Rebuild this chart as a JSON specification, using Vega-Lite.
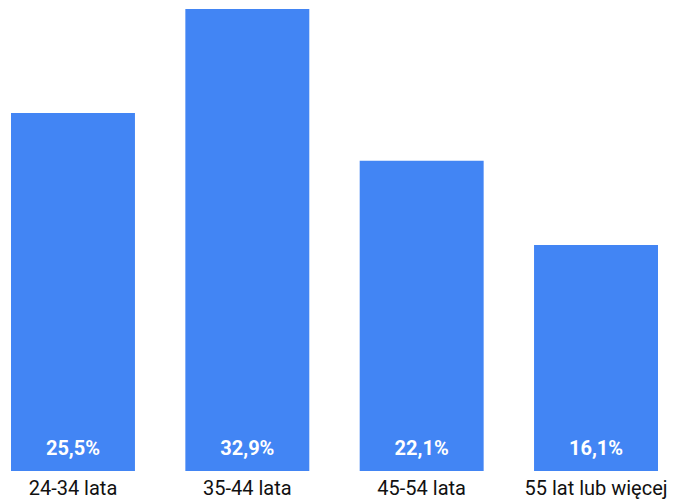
{
  "$schema": "https://vega.github.io/schema/vega-lite/v6.json",
  "width": 647,
  "height": 462,
  "padding": {"left": 11, "top": 9, "right": 15, "bottom": 32},
  "autosize": {"type": "none"},
  "background": "white",
  "config": {"view": {"stroke": null}, "font": "Roboto"},
  "data": {"values": [
    {"grupa": "24-34 lata", "udzial": 25.5, "etykieta": "25,5%"},
    {"grupa": "35-44 lata", "udzial": 32.9, "etykieta": "32,9%"},
    {"grupa": "45-54 lata", "udzial": 22.1, "etykieta": "22,1%"},
    {"grupa": "55 lat lub więcej", "udzial": 16.1, "etykieta": "16,1%"}
  ]},
  "encoding": {
    "x": {"field": "grupa", "type": "nominal", "sort": null,
      "scale": {"paddingInner": 0.289, "paddingOuter": 0},
      "axis": {"title": null, "ticks": false, "domain": false, "labelAngle": 0,
        "labelFontSize": 20, "labelColor": "#111", "labelPadding": 7, "labelFont": "Roboto"}}
  },
  "layer": [
    {"mark": {"type": "bar", "color": "#4285F4"},
     "encoding": {"y": {"field": "udzial", "type": "quantitative",
        "scale": {"domain": [0, 32.9], "nice": false}, "axis": null}}},
    {"mark": {"type": "text", "color": "white", "fontWeight": "bold", "fontSize": 20, "baseline": "middle", "dy": -22, "font": "Roboto"},
     "encoding": {"y": {"datum": 0, "type": "quantitative"}, "text": {"field": "etykieta"}}}
  ]
}
